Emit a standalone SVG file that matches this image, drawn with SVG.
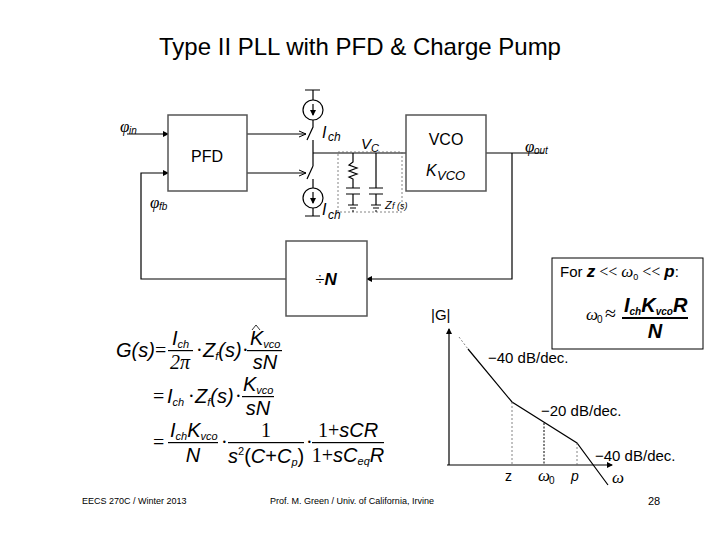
<svg xmlns="http://www.w3.org/2000/svg" width="720" height="540" viewBox="0 0 720 540">
<defs>
<marker id="ar" markerWidth="8" markerHeight="8" refX="7" refY="4" orient="auto" markerUnits="userSpaceOnUse"><path d="M0,1 L7,4 L0,7" fill="none" stroke="#000" stroke-width="1"/></marker>
<marker id="af" markerWidth="6" markerHeight="6" refX="5" refY="3" orient="auto" markerUnits="userSpaceOnUse"><path d="M0,0 L6,3 L0,6 z" fill="#000"/></marker>
</defs>
<style>
text{font-family:"Liberation Sans",Arial,sans-serif;fill:#000}
.box{fill:#fff;stroke:#555;stroke-width:1.5}
.w{fill:none;stroke:#000;stroke-width:1.2}
.m{font-family:"Liberation Sans",Arial,sans-serif;font-style:italic;font-size:20px}
.mr{font-family:"Liberation Serif",serif;font-size:20px}
.g{font-family:"Liberation Serif",serif;font-style:italic;font-size:17px}
.dot{fill:none;stroke:#666;stroke-width:0.8;stroke-dasharray:2,2}
</style>
<rect width="720" height="540" fill="#fff"/>
<text x="360" y="55" font-size="24" text-anchor="middle">Type II PLL with PFD &amp; Charge Pump</text>

<g id="connectors">
<path class="w" d="M127,134 H168" marker-end="url(#af)"/>
<path class="w" d="M286,279 H141 V173 H168" marker-end="url(#af)"/>
<path class="w" d="M247,134 H306" marker-end="url(#ar)"/>
<path class="w" d="M247,173 H306" marker-end="url(#ar)"/>
<path class="w" d="M313,153 H406"/>
<path class="w" d="M486,153 H543"/>
<path class="w" d="M512,153 V279 H367" marker-end="url(#af)"/>
</g>

<g id="chargepump">
<path class="w" d="M305,90 H320 M313,90 V100 M313,120 V127 L307,140 M313,140 V166 M313,166 L307,179 M313,179 V188 M313,208 V216 M305,216 H320"/>
<circle cx="313" cy="110" r="10" class="w"/>
<path class="w" d="M313,104 V115" marker-end="url(#af)"/>
<circle cx="313" cy="198" r="10" class="w"/>
<path class="w" d="M313,192 V203" marker-end="url(#af)"/>
<text x="322" y="138" font-size="16" font-style="italic">I</text><text x="328" y="141" font-size="12" font-style="italic">ch</text>
<text x="322" y="215" font-size="16" font-style="italic">I</text><text x="328" y="219" font-size="12" font-style="italic">ch</text>
</g>

<g id="loopfilter">
<rect x="338" y="152" width="64" height="60" class="dot" stroke="#000"/>
<path class="w" d="M353,153 V162 L349,165 L357,168 L349,171 L357,174 L349,177 L353,179 V188 M346,188 H360 M346,194 H360 M353,194 V205 M348,205 H358 M350,208 H356 M352,211 H354"/>
<path class="w" d="M376,153 V188 M369,188 H383 M369,194 H383 M376,194 V205 M371,205 H381 M373,208 H379 M375,211 H377"/>
<text x="361" y="149" font-size="15" font-style="italic">V</text><text x="371" y="152" font-size="11" font-style="italic">C</text>
<text x="385" y="209" font-size="11" font-style="italic">Z</text><text x="392" y="209" font-size="9" font-style="italic">f (s)</text>
</g>

<g id="pfd"><rect x="168" y="115" width="79" height="76" class="box"/><text x="207" y="162" font-size="16" text-anchor="middle">PFD</text></g>
<g id="vco"><rect x="406" y="115" width="80" height="76" class="box"/><text x="446" y="145" font-size="16" text-anchor="middle">VCO</text><text x="426" y="176" font-size="16" font-style="italic">K</text><text x="437" y="180" font-size="13" font-style="italic">VCO</text></g>
<g id="divider"><rect x="286" y="241" width="81" height="75" class="box"/><text x="326" y="285" font-size="17" text-anchor="middle"><tspan font-family="Liberation Serif">÷</tspan><tspan font-weight="bold" font-style="italic">N</tspan></text></g>

<g id="labels">
<text x="120" y="132" class="g">φ</text><text x="129" y="134" font-size="10" font-style="italic">in</text>
<text x="150" y="208" class="g">φ</text><text x="159" y="210" font-size="10" font-style="italic">fb</text>
<text x="525" y="152" class="g">φ</text><text x="534" y="154" font-size="10" font-style="italic">out</text>
</g>

<g id="forbox">
<rect x="552" y="258" width="151" height="91" fill="#fff" stroke="#000" stroke-width="1"/>
<text x="560" y="277" font-size="15">For <tspan font-style="italic" font-weight="bold" font-size="17">z</tspan><tspan font-family="Liberation Serif" font-size="16"> &lt;&lt; </tspan><tspan font-family="Liberation Serif" font-style="italic" font-size="17">ω</tspan><tspan font-size="9" dy="3">0</tspan><tspan font-family="Liberation Serif" font-size="16" dy="-3"> &lt;&lt; </tspan><tspan font-style="italic" font-weight="bold" font-size="17">p</tspan>:</text>
<text x="586" y="320" class="g">ω</text><text x="597" y="323" font-size="10">0</text><text x="605" y="320" class="mr" font-size="17">≈</text>
<text x="624" y="312" class="m" font-weight="bold" font-size="17">I<tspan font-size="10" dy="3">ch</tspan><tspan dy="-3">K</tspan><tspan font-size="10" dy="3">vco</tspan><tspan dy="-3">R</tspan></text>
<rect x="622" y="317" width="66" height="2" fill="#000"/>
<text x="655" y="338" class="m" font-weight="bold" font-size="17" text-anchor="middle">N</text>
</g>

<g id="bode">
<path class="w" d="M449,465 V329" marker-end="url(#af)" stroke-width="1"/>
<path class="w" d="M447,465 H612" marker-end="url(#af)" stroke-width="1"/>
<path class="dot" d="M459,337 L468,349"/>
<path class="w" d="M468,349 L512,402 L577,443 L608,485" stroke-width="1"/>
<path class="dot" d="M512,402 V465 M577,443 V465"/>
<path d="M544,423 V465" fill="none" stroke="#000" stroke-width="1" stroke-dasharray="2,1.5"/>
<text x="431" y="320" font-size="15">|G|</text>
<text x="488" y="363" font-size="15">−40 dB/dec.</text>
<text x="541" y="416" font-size="15">−20 dB/dec.</text>
<text x="595" y="461" font-size="15">−40 dB/dec.</text>
<text x="505" y="481" font-size="14">z</text>
<text x="538" y="481" class="g">ω</text><text x="549" y="484" font-size="10">0</text>
<text x="571" y="481" font-size="14" font-style="italic">p</text>
<text x="612" y="483" class="g">ω</text>
</g>

<g id="equations">
<text x="116" y="357" class="m" font-size="19">G(s)</text>
<text x="155" y="357" class="mr">=</text>
<text x="172" y="345" class="m">I<tspan font-size="11" dy="3">ch</tspan></text>
<rect x="168" y="350" width="25" height="1.2" fill="#000"/>
<text x="170" y="369" class="mr" font-style="italic">2π</text>
<text x="196" y="357" class="mr">·</text>
<text x="203" y="357" class="m">Z<tspan font-size="11" dy="3">f</tspan><tspan dy="-3">(s)</tspan></text>
<text x="242" y="357" class="mr">·</text>
<path d="M252,330 L256,325 L260,330" fill="none" stroke="#000" stroke-width="0.8"/>
<text x="250" y="345" class="m">K<tspan font-size="11" dy="3">vco</tspan></text>
<rect x="247" y="350" width="35" height="1.2" fill="#000"/>
<text x="265" y="369" class="m" text-anchor="middle">sN</text>

<text x="153" y="403" class="mr">=</text>
<text x="167" y="403" class="m">I<tspan font-size="11" dy="3">ch</tspan></text>
<text x="188" y="403" class="mr">·</text>
<text x="195" y="403" class="m">Z<tspan font-size="11" dy="3">f</tspan><tspan dy="-3">(s)</tspan></text>
<text x="235" y="403" class="mr">·</text>
<text x="243" y="391" class="m">K<tspan font-size="11" dy="3">vco</tspan></text>
<rect x="242" y="396" width="32" height="1.2" fill="#000"/>
<text x="258" y="415" class="m" text-anchor="middle">sN</text>

<text x="153" y="449" class="mr">=</text>
<text x="170" y="437" class="m">I<tspan font-size="11" dy="3">ch</tspan><tspan dy="-3">K</tspan><tspan font-size="11" dy="3">vco</tspan></text>
<rect x="168" y="442" width="50" height="1.2" fill="#000"/>
<text x="193" y="462" class="m" text-anchor="middle">N</text>
<text x="221" y="449" class="mr">·</text>
<text x="266" y="437" class="mr" text-anchor="middle">1</text>
<rect x="228" y="442" width="76" height="1.2" fill="#000"/>
<text x="228" y="463" class="m">s<tspan font-size="11" dy="-8" font-style="normal">2</tspan><tspan dy="8" font-style="normal">(</tspan>C<tspan font-style="normal">+</tspan>C<tspan font-size="11" dy="3">p</tspan><tspan dy="-3" font-style="normal">)</tspan></text>
<text x="306" y="449" class="mr">·</text>
<text x="348" y="437" class="m" text-anchor="middle"><tspan font-style="normal" font-family="Liberation Serif">1+</tspan>sCR</text>
<rect x="312" y="442" width="72" height="1.2" fill="#000"/>
<text x="348" y="462" class="m" text-anchor="middle"><tspan font-style="normal" font-family="Liberation Serif">1+</tspan>sC<tspan font-size="11" dy="3">eq</tspan><tspan dy="-3">R</tspan></text>
</g>

<g id="footer">
<text x="82" y="504" font-size="9">EECS 270C / Winter 2013</text>
<text x="270" y="504" font-size="9">Prof. M. Green / Univ. of California, Irvine</text>
<text x="648" y="505" font-size="11">28</text>
</g>
</svg>
